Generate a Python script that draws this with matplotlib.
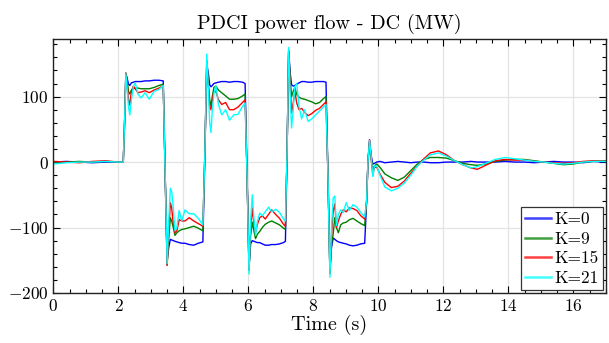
import matplotlib
matplotlib.use("Agg")
import matplotlib.pyplot as plt
from matplotlib.ticker import MultipleLocator

# time axis (s), shared by all four runs
time_s = [
    0.0, 0.4, 0.8, 1.2, 1.6, 2.0, 2.15,
    2.19, 2.23, 2.27, 2.31, 2.35, 2.40, 2.46, 2.52, 2.60, 2.70, 2.82, 2.95, 3.10, 3.25, 3.38,
    3.44, 3.50, 3.55, 3.60, 3.64, 3.69, 3.74, 3.80, 3.87, 3.95, 4.05, 4.18, 4.32, 4.46, 4.60,
    4.66, 4.72, 4.77, 4.81, 4.85, 4.89, 4.94, 5.00, 5.08, 5.18, 5.30, 5.42, 5.55, 5.68, 5.82, 5.90,
    5.96, 6.02, 6.07, 6.12, 6.17, 6.22, 6.28, 6.35, 6.43, 6.52, 6.62, 6.72, 6.84, 6.96, 7.08, 7.14,
    7.19, 7.24, 7.29, 7.33, 7.38, 7.43, 7.49, 7.56, 7.64, 7.73, 7.84, 7.95, 8.07, 8.19, 8.31, 8.39,
    8.45, 8.51, 8.56, 8.61, 8.66, 8.71, 8.77, 8.84, 8.92, 9.01, 9.11, 9.22, 9.34, 9.46, 9.58, 9.64,
    9.68, 9.73, 9.78, 9.83, 9.88, 9.95, 10.05, 10.2, 10.4, 10.6, 10.8, 11.0, 11.2, 11.4, 11.6,
    11.85, 12.1, 12.35, 12.6, 12.85, 13.05, 13.3, 13.6, 13.9, 14.2, 14.5, 14.8, 15.1, 15.4,
    15.7, 16.0, 16.3, 16.6, 17.0,
]

# DC power flow (MW) for each gain K
k0 = [
    0, 1, 0, -1, 0, 0, 0,
    60, 135, 128, 119, 117, 121, 122, 123, 123, 123, 124, 124, 125, 125, 124,
    -20, -150, -130, -118, -119, -120, -121, -122, -123, -124, -124, -126, -127, -124, -122,
    10, 150, 135, 118, 115, 117, 120, 121, 122, 123, 123, 122, 123, 123, 122, 120,
    -20, -160, -125, -120, -121, -122, -123, -123, -125, -127, -127, -126, -126, -125, -123, -121,
    10, 170, 135, 118, 116, 117, 119, 121, 123, 123, 122, 122, 123, 123, 123, 122,
    -20, -165, -130, -116, -118, -120, -122, -123, -124, -125, -127, -128, -127, -125, -124, -60,
    0, 34, 10, -3, -2, 0, 1, -1, 0, 1, 0, -1, 0, 0, -1,
    -1, 0, 0, 0, 1, 0, 0, 0, 1, 0, 0, -1, 0, 1,
    0, 0, -1, 1, 0,
]
k9 = [
    0, 0, 1, 0, 1, 0, 0,
    60, 136, 125, 108, 104, 110, 112, 113, 113, 112, 112, 112, 114, 117, 119,
    -20, -157, -115, -85, -90, -100, -112, -108, -105, -103, -102, -100, -98, -101, -105,
    10, 155, 118, 95, 86, 100, 114, 116, 110, 106, 101, 96, 96, 97, 101, 104,
    -20, -165, -112, -92, -105, -117, -110, -106, -100, -95, -92, -90, -93, -96, -101, -103,
    10, 170, 125, 100, 108, 114, 103, 99, 97, 96, 94, 92, 89, 91, 97, 100,
    -20, -170, -125, -110, -85, -100, -108, -96, -93, -92, -88, -86, -90, -94, -97, -60,
    0, 30, 5, -11, -6, -3, -8, -18, -24, -28, -23, -13, -3, 4, 7,
    7, 6, 2, -2, -4, -5, -3, 1, 3, 4, 4, 2, 0, -2,
    -4, -3, 0, 1, 2,
]
k15 = [
    1, 0, -1, 1, 2, 0, 0,
    60, 136, 120, 95, 87, 108, 116, 112, 106, 107, 109, 106, 110, 113, 117,
    -20, -158, -105, -62, -70, -95, -108, -105, -88, -90, -90, -85, -90, -94, -98,
    10, 155, 115, 85, 80, 95, 108, 108, 95, 88, 91, 80, 80, 84, 91, 95,
    -20, -165, -100, -70, -95, -107, -95, -85, -82, -87, -80, -73, -80, -86, -95, -98,
    10, 170, 115, 75, 90, 108, 90, 80, 82, 76, 71, 74, 79, 82, 88, 92,
    -20, -170, -110, -75, -64, -100, -90, -80, -73, -76, -70, -71, -74, -82, -87, -60,
    0, 34, 5, -20, -8, -8, -18, -31, -39, -37, -29, -17, -6, 5, 14,
    17, 11, 2, -4, -9, -11, -5, 2, 4, 3, 3, 1, 0, -1,
    -2, -1, 1, 2, 1,
]
k21 = [
    -3, -1, 0, 0, 1, 0, 0,
    60, 135, 112, 85, 72, 95, 115, 121, 104, 98, 106, 96, 108, 111, 117,
    -20, -155, -90, -40, -45, -70, -105, -100, -74, -90, -73, -79, -79, -86, -96,
    10, 165, 110, 60, 45, 80, 105, 117, 88, 72, 80, 64, 72, 73, 85, 90,
    -20, -171, -90, -50, -85, -112, -90, -78, -82, -76, -69, -76, -72, -77, -87, -90,
    10, 175, 100, 52, 80, 115, 120, 85, 66, 80, 62, 66, 72, 78, 84, 88,
    -20, -176, -100, -55, -52, -97, -80, -73, -77, -62, -74, -65, -69, -77, -84, -60,
    0, 33, 8, -22, -6, -6, -20, -38, -44, -40, -32, -20, -6, 3, 11,
    14, 9, 2, -4, -9, -7, -2, 4, 7, 5, 3, 1, 0, -2,
    -3, -2, 0, 1, 1,
]

labels = ["K=0", "K=9", "K=15", "K=21"]
colors = ["#0000FF", "#008000", "#FF0000", "#00FFFF"]

plt.rcParams.update({
    "font.family": ["cmr10", "DejaVu Serif"],
    "axes.formatter.use_mathtext": True,
    "axes.unicode_minus": False,
    "mathtext.fontset": "cm",
})

fig = plt.figure(figsize=(6.09, 3.43), dpi=100)
ax = fig.add_axes([0.0877, 0.1458, 0.907, 0.7405])

for series, label, color in zip([k0, k9, k15, k21], labels, colors):
    ax.plot(time_s, series, color=color, lw=1.0, label=label)

ax.set_xlim(0, 17)
ax.set_ylim(-200, 188)
ax.xaxis.set_major_locator(MultipleLocator(2))
ax.xaxis.set_minor_locator(MultipleLocator(0.5))
ax.yaxis.set_major_locator(MultipleLocator(100))
ax.yaxis.set_minor_locator(MultipleLocator(20))
ax.tick_params(which="both", direction="in", top=True, right=True, labelsize=12.5)
ax.tick_params(which="major", length=5, width=0.8)
ax.tick_params(which="minor", length=3, width=0.8)
ax.grid(True, which="major", color="#e3e3e3", lw=0.9)
ax.set_axisbelow(True)
for spine in ax.spines.values():
    spine.set_color("#222222")
    spine.set_linewidth(1.0)

ax.set_title("PDCI power flow - DC (MW)", fontsize=14.5, pad=7)
ax.set_xlabel("Time (s)", fontsize=14.5, labelpad=1)

leg = ax.legend(loc="lower right", fontsize=12.5, fancybox=False, framealpha=1,
                edgecolor="#333333", handlelength=1.5, handletextpad=0.2,
                labelspacing=0.25, borderpad=0.25, borderaxespad=0.15)
leg.get_frame().set_linewidth(0.9)
for line in leg.get_lines():
    line.set_linewidth(1.8)
    line.set_alpha(0.75)

fig.savefig("out.png", dpi=100)
